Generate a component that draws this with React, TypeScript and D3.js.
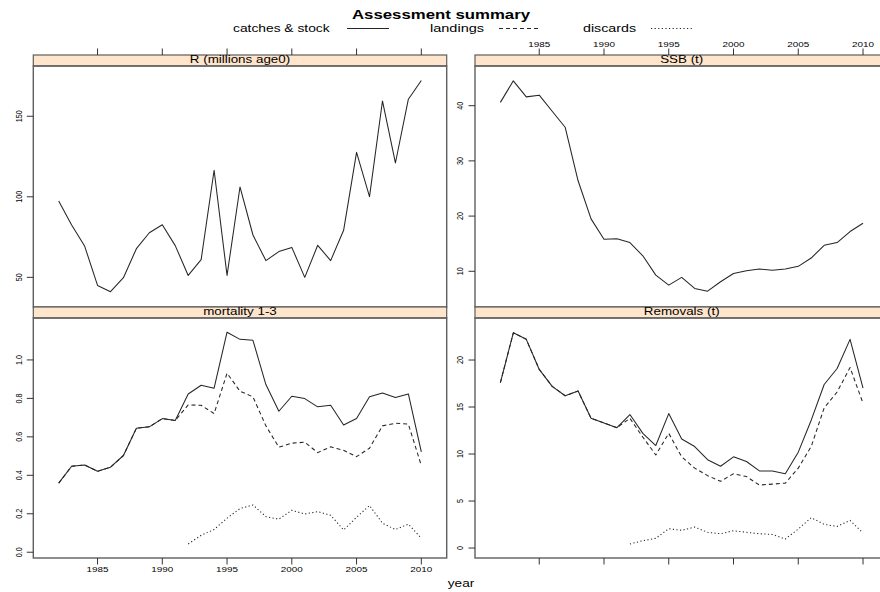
import React from "react";
import * as d3 from "d3";

const years = [1982, 1983, 1984, 1985, 1986, 1987, 1988, 1989, 1990, 1991, 1992, 1993, 1994, 1995, 1996, 1997, 1998, 1999, 2000, 2001, 2002, 2003, 2004, 2005, 2006, 2007, 2008, 2009, 2010];
const xTicks = [1985, 1990, 1995, 2000, 2005, 2010];

const recruitment = [97.4, 82.5, 69.5, 45, 41.1, 49.8, 67.8, 77.7, 82.7, 69.7, 51.2, 61, 116.5, 51.2, 106.1, 76.3, 60.4, 66, 68.6, 50, 69.9, 60.4, 79.2, 127.6, 100.1, 159.5, 121, 160.6, 172.2];
const ssb = [40.6, 44.5, 41.6, 41.9, 39.0, 36.1, 26.4, 19.5, 15.8, 15.9, 15.2, 12.8, 9.3, 7.5, 8.9, 6.9, 6.4, 8.1, 9.6, 10.1, 10.4, 10.2, 10.4, 10.9, 12.4, 14.7, 15.2, 17.2, 18.7];

const mortCatch = [0.359, 0.447, 0.454, 0.421, 0.442, 0.503, 0.645, 0.652, 0.695, 0.685, 0.823, 0.868, 0.853, 1.144, 1.107, 1.102, 0.872, 0.733, 0.811, 0.799, 0.756, 0.764, 0.662, 0.695, 0.808, 0.828, 0.804, 0.823, 0.522];
const mortLand = [0.359, 0.447, 0.454, 0.421, 0.442, 0.503, 0.645, 0.652, 0.695, 0.685, 0.766, 0.764, 0.721, 0.931, 0.837, 0.808, 0.657, 0.546, 0.567, 0.572, 0.518, 0.548, 0.530, 0.497, 0.541, 0.657, 0.671, 0.666, 0.451];
const mortDisc = [null, null, null, null, null, null, null, null, null, null, 0.043, 0.088, 0.118, 0.177, 0.227, 0.246, 0.185, 0.172, 0.218, 0.199, 0.211, 0.192, 0.116, 0.182, 0.243, 0.151, 0.118, 0.146, 0.073];

const remCatch = [17.6, 22.9, 22.2, 19.0, 17.2, 16.2, 16.7, 13.8, 13.3, 12.8, 14.2, 12.2, 10.9, 14.3, 11.6, 10.8, 9.4, 8.7, 9.7, 9.2, 8.2, 8.2, 7.9, 10.2, 13.6, 17.4, 19.1, 22.2, 17.0];
const remLand = [17.6, 22.9, 22.2, 19.0, 17.2, 16.2, 16.7, 13.8, 13.3, 12.8, 13.8, 11.8, 9.9, 12.2, 9.7, 8.5, 7.7, 7.1, 7.9, 7.6, 6.7, 6.8, 6.9, 8.5, 10.8, 14.9, 16.6, 19.2, 15.4];
const remDisc = [null, null, null, null, null, null, null, null, null, null, 0.43, 0.78, 1.03, 2.06, 1.88, 2.23, 1.67, 1.52, 1.84, 1.67, 1.52, 1.45, 0.96, 2.02, 3.23, 2.52, 2.30, 2.94, 1.60];

const panelTitles = ["R (millions age0)", "SSB (t)", "mortality 1-3", "Removals (t)"];
const legendLabels = ["catches & stock", "landings", "discards"];

const FONT = "'Liberation Sans', Arial, Helvetica, sans-serif";
const SX = 1.3;
const LINE = "#262626";
const DASH = ["", "4,3", "1.2,2.4"];

type Series = { values: (number | null)[]; style: number };
type Panel = {
  title: string;
  x0: number; x1: number;
  stripTop: number; top: number; bottom: number;
  yDomain: [number, number];
  yTicks: number[];
  yFmt: (v: number) => string;
  series: Series[];
  topAxis: boolean; topLabels: boolean;
  bottomAxis: boolean; bottomLabels: boolean;
};

const COLS = [[33.3, 446.7], [475, 888.4]];
const ROWS = [[55, 66, 307], [307, 318, 558]];
const XDOM: [number, number] = [1980.04, 2011.96];

const fmtInt = (v: number) => String(v);
const fmt1 = d3.format(".1f");

const panels: Panel[] = [
  {
    title: panelTitles[0], x0: COLS[0][0], x1: COLS[0][1], stripTop: ROWS[0][0], top: ROWS[0][1], bottom: ROWS[0][2],
    yDomain: [31.6, 181.2], yTicks: [50, 100, 150], yFmt: fmtInt,
    series: [{ values: recruitment, style: 0 }],
    topAxis: true, topLabels: false, bottomAxis: false, bottomLabels: false,
  },
  {
    title: panelTitles[1], x0: COLS[1][0], x1: COLS[1][1], stripTop: ROWS[0][0], top: ROWS[0][1], bottom: ROWS[0][2],
    yDomain: [3.53, 47.19], yTicks: [10, 20, 30, 40], yFmt: fmtInt,
    series: [{ values: ssb, style: 0 }],
    topAxis: true, topLabels: true, bottomAxis: false, bottomLabels: false,
  },
  {
    title: panelTitles[2], x0: COLS[0][0], x1: COLS[0][1], stripTop: ROWS[1][0], top: ROWS[1][1], bottom: ROWS[1][2],
    yDomain: [-0.03, 1.218], yTicks: [0, 0.2, 0.4, 0.6, 0.8, 1.0], yFmt: (v) => fmt1(v),
    series: [{ values: mortDisc, style: 2 }, { values: mortLand, style: 1 }, { values: mortCatch, style: 0 }],
    topAxis: false, topLabels: false, bottomAxis: true, bottomLabels: true,
  },
  {
    title: panelTitles[3], x0: COLS[1][0], x1: COLS[1][1], stripTop: ROWS[1][0], top: ROWS[1][1], bottom: ROWS[1][2],
    yDomain: [-1.06, 24.47], yTicks: [0, 5, 10, 15, 20], yFmt: fmtInt,
    series: [{ values: remDisc, style: 2 }, { values: remLand, style: 1 }, { values: remCatch, style: 0 }],
    topAxis: false, topLabels: false, bottomAxis: true, bottomLabels: false,
  },
];

function SText(props: { x: number; y: number; size: number; anchor?: string; rot?: boolean; bold?: boolean; sx?: number; children: any; fill?: string }) {
  const { x, y, size, anchor = "middle", rot = false, bold = false, sx = SX, children, fill = "#000" } = props;
  const tr = `translate(${x},${y}) scale(${sx},1)` + (rot ? " rotate(-90)" : "");
  return (
    <text transform={tr} fontSize={size} fontFamily={FONT} fontWeight={bold ? "bold" : "normal"}
      textAnchor={anchor} dominantBaseline={rot ? "central" : "alphabetic"} fill={fill}>
      {children}
    </text>
  );
}

function PanelView({ p }: { p: Panel }) {
  const x = d3.scaleLinear().domain(XDOM).range([p.x0, p.x1]);
  const y = d3.scaleLinear().domain(p.yDomain).range([p.bottom, p.top]);
  const line = d3.line<number | null>()
    .defined((d) => d !== null)
    .x((_, i) => x(years[i]))
    .y((d) => y(d as number));
  const tk = 6.5;
  return (
    <g>
      <rect x={p.x0} y={p.stripTop} width={p.x1 - p.x0} height={p.top - p.stripTop} fill="#ffe5cc" stroke="#5e5e5e" strokeWidth={1.2} />
      <SText x={(p.x0 + p.x1) / 2} y={p.top - 2.6} size={10.3}>{p.title}</SText>
      {p.series.map((s, i) => (
        <path key={i} d={line(s.values) || ""} fill="none" stroke={LINE} strokeWidth={1.05}
          strokeDasharray={DASH[s.style] || undefined} strokeLinejoin="round" />
      ))}
      <rect x={p.x0} y={p.top} width={p.x1 - p.x0} height={p.bottom - p.top} fill="none" stroke="#5e5e5e" strokeWidth={1.4} />
      {p.yTicks.map((t) => (
        <g key={t}>
          <line x1={p.x0 - tk} x2={p.x0} y1={y(t)} y2={y(t)} stroke="#333" strokeWidth={1} />
          <SText x={p.x0 - 15} y={y(t)} size={7.2} rot>{p.yFmt(t)}</SText>
        </g>
      ))}
      {p.topAxis && xTicks.map((t) => (
        <g key={"t" + t}>
          <line x1={x(t)} x2={x(t)} y1={p.stripTop - tk} y2={p.stripTop} stroke="#333" strokeWidth={1} />
          {p.topLabels && <SText x={x(t)} y={p.stripTop - 8.5} size={7.6}>{t}</SText>}
        </g>
      ))}
      {p.bottomAxis && xTicks.map((t) => (
        <g key={"b" + t}>
          <line x1={x(t)} x2={x(t)} y1={p.bottom} y2={p.bottom + tk} stroke="#333" strokeWidth={1} />
          {p.bottomLabels && <SText x={x(t)} y={p.bottom + 14} size={7.6}>{t}</SText>}
        </g>
      ))}
    </g>
  );
}

export default function App() {
  const legendX = [233, 430, 583];
  const legendW = [96.6, 54, 53];
  const legendLine = [[347, 389], [499, 540], [651, 693]];
  return (
    <svg width={880} height={592} style={{ position: "absolute", left: 0, top: 0, background: "#fff" }}>
      <rect x={0} y={0} width={880} height={592} fill="#fff" />
      <text x={441} y={19} fontSize={12.4} fontWeight="bold" fontFamily={FONT} textAnchor="middle"
        textLength={178} lengthAdjust="spacingAndGlyphs">Assessment summary</text>
      {legendLabels.map((l, i) => (
        <g key={l}>
          <text x={legendX[i]} y={31.6} fontSize={10.3} fontFamily={FONT} textLength={legendW[i]} lengthAdjust="spacingAndGlyphs">{l}</text>
          <line x1={legendLine[i][0]} x2={legendLine[i][1]} y1={28.5} y2={28.5} stroke={LINE} strokeWidth={1}
            strokeDasharray={DASH[i] || undefined} />
        </g>
      ))}
      {panels.map((p, i) => <PanelView key={i} p={p} />)}
      <SText x={461} y={587} size={10.5}>year</SText>
    </svg>
  );
}
